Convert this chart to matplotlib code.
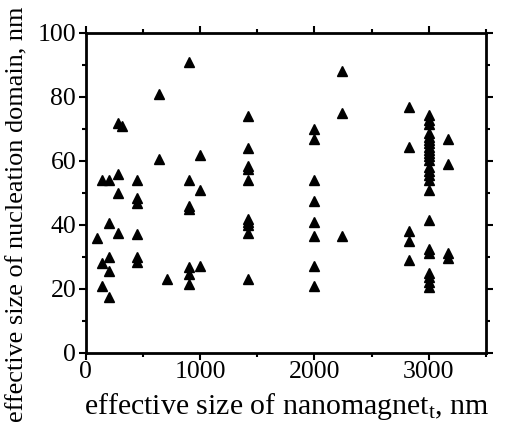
import matplotlib
matplotlib.use("Agg")
import matplotlib.pyplot as plt
from matplotlib.ticker import MultipleLocator

# effective size of nanomagnet (nm) -> list of nucleation domain sizes (nm)
x_vals = [100, 140, 200, 280, 320, 450, 640, 710, 900, 1000,
          1420, 2000, 2240, 2830, 3000, 3170]
y_groups = [
    [36],
    [54, 28, 21],
    [54, 40.5, 30, 25.7, 17.5],
    [72, 56, 50, 37.5],
    [71],
    [54, 48.5, 47, 37, 30, 28.5],
    [81, 60.5],
    [23],
    [91, 54, 46, 45, 26.7, 24.6, 21.5],
    [62, 51, 27],
    [74, 64, 58.5, 57.5, 54, 42, 41, 40, 37.5, 23],
    [70, 67, 54, 47.5, 41, 36.5, 27, 21],
    [88, 75, 36.5],
    [77, 64.5, 38, 35, 29],
    [74.4, 72.8, 71.6, 68.6, 67.5, 66.5, 65.5, 64.5, 63.5, 62.5, 61.5, 60.3,
     58.2, 57, 55.6, 54, 50.9, 41.6, 32.4, 31.2, 24.9, 23.7, 22.3, 20.7],
    [67, 59, 31.3, 29.6],
]

xs, ys = [], []
for xv, grp in zip(x_vals, y_groups):
    for yv in grp:
        xs.append(xv)
        ys.append(yv)

plt.rcParams["font.family"] = ["Liberation Serif", "DejaVu Serif"]
plt.rcParams["mathtext.fontset"] = "custom"
plt.rcParams["mathtext.rm"] = "Liberation Serif"
plt.rcParams["mathtext.it"] = "Liberation Serif"

fig = plt.figure(figsize=(5.05, 4.33), dpi=100)
ax = fig.add_axes([0.170, 0.185, 0.792, 0.739])
ax.plot(xs, ys, linestyle="none", marker="^", color="black", markersize=6.8)

ax.set_xlim(0, 3500)
ax.set_ylim(0, 100)
ax.xaxis.set_major_locator(MultipleLocator(1000))
ax.xaxis.set_minor_locator(MultipleLocator(500))
ax.yaxis.set_major_locator(MultipleLocator(20))
ax.yaxis.set_minor_locator(MultipleLocator(10))
ax.tick_params(which="both", direction="out", top=True, right=True,
               width=1.5, labelsize=18.5)
ax.tick_params(axis="x", pad=1)
ax.tick_params(axis="y", pad=2)
ax.tick_params(which="major", length=5)
ax.tick_params(which="minor", length=3)
for s in ax.spines.values():
    s.set_linewidth(2)

fig.text(287 / 505, 1 - 414 / 433, "effective size of nanomagnet$_{\\mathrm{t}}$, nm",
         fontsize=21.5, ha="center", va="baseline")
fig.text(17 / 505, 1 - 214 / 433, "effective size of nucleation domain, nm",
         fontsize=18.9, rotation=90, ha="center", va="center")

fig.savefig("out.png", dpi=100)
